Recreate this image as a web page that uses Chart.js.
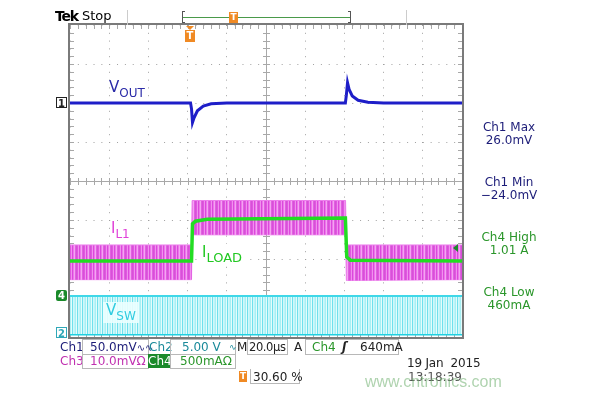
<!DOCTYPE html>
<html lang="en">
<head>
<meta charset="UTF-8">
<title>Tek scope capture</title>
<script src="https://cdn.jsdelivr.net/npm/chart.js@4.4.0/dist/chart.umd.min.js"></script>
<style>
  body { margin: 0; background: #fff; }
  #wrap { position: relative; width: 607px; height: 397px; overflow: hidden; }
  #scope { position: absolute; left: 0; top: 0; }
  .t { position: absolute; white-space: nowrap; font: 12px "DejaVu Sans", sans-serif; line-height: 14px; }
  .box { position: absolute; border: 1px solid #b8b8b8; box-sizing: border-box; }
  .meas { position: absolute; left: 459px; width: 100px; text-align: center; font: 12px "DejaVu Sans", sans-serif; line-height: 13px; }
  .lbl { position: absolute; white-space: nowrap; font-family: "DejaVu Sans", sans-serif; font-size: 15px; line-height: 16px; }
  .lbl span { font-size: 12px; position: relative; top: 5px; }
  .mk { position: absolute; width: 11px; height: 11px; font: bold 10px "DejaVu Sans", sans-serif; line-height: 11px; text-align: center; box-sizing: border-box; }
</style>
</head>
<body>
<div id="wrap">
  <canvas id="scope" width="607" height="397"></canvas>

  <!-- barra de cima -->
  <div class="t" style="left:55px;top:9px;font:bold 14px 'DejaVu Sans';letter-spacing:-1.2px;line-height:15px;">Tek</div>
  <div class="t" style="left:82px;top:9px;font-size:13px;">Stop</div>
  <div style="position:absolute;left:127px;top:10px;width:1px;height:15px;background:#ccc;"></div>
  <div style="position:absolute;left:406px;top:10px;width:1px;height:15px;background:#ccc;"></div>
  <div style="position:absolute;left:183px;top:17px;width:167px;height:1px;background:#4a9a4a;"></div>
  <div style="position:absolute;left:182px;top:11px;width:3px;height:12px;border-left:1px solid #555;border-top:1px solid #555;border-bottom:1px solid #555;box-sizing:border-box;"></div>
  <div style="position:absolute;left:348px;top:11px;width:3px;height:12px;border-right:1px solid #555;border-top:1px solid #555;border-bottom:1px solid #555;box-sizing:border-box;"></div>
  <div class="mk" style="left:229px;top:12px;width:9px;height:11px;background:#f08a24;color:#fff;font-size:9px;">T</div>
  <div style="position:absolute;left:186px;top:26px;width:0;height:0;border-left:4px solid transparent;border-right:4px solid transparent;border-top:4px solid #f08a24;"></div>
  <div class="mk" style="left:185px;top:30px;width:10px;height:12px;background:#f08a24;color:#fff;font-size:10px;">T</div>

  <!-- marcadores de canal -->
  <div class="mk" style="left:56px;top:97px;border:1px solid #222;background:#fff;color:#222;">1</div>
  <div class="mk" style="left:56px;top:290px;background:#1a8a2a;color:#fff;border-radius:2px;">4</div>
  <div class="mk" style="left:56px;top:327px;border:1px solid #30a8b8;background:#fff;color:#30a8b8;">2</div>
  <div style="position:absolute;left:453px;top:244px;width:0;height:0;border-top:4px solid transparent;border-bottom:4px solid transparent;border-right:5px solid #1a8a2a;"></div>

  <!-- rótulos dos traços -->
  <div class="lbl" style="left:109px;top:79px;color:#2b2ba8;">V<span>OUT</span></div>
  <div class="lbl" style="left:111px;top:220px;color:#e040d8;">I<span>L1</span></div>
  <div class="lbl" style="left:200px;top:244px;color:#22c822;background:#fff;padding:0 2px;">I<span style="font-size:13px;">LOAD</span></div>
  <div class="lbl" style="left:103px;top:302px;color:#30cce0;background:rgba(235,255,255,0.9);padding:0 3px 4px 3px;">V<span>SW</span></div>

  <!-- medidas -->
  <div class="meas" style="top:121px;color:#1c1c78;">Ch1 Max<br>26.0mV</div>
  <div class="meas" style="top:176px;color:#1c1c78;">Ch1 Min<br>&minus;24.0mV</div>
  <div class="meas" style="top:231px;color:#2a962a;">Ch4 High<br>1.01 A</div>
  <div class="meas" style="top:286px;color:#2a962a;">Ch4 Low<br>460mA</div>

  <!-- linha 1 -->
  <div class="t" style="left:60px;top:340px;color:#1c1c78;">Ch1</div>
  <div class="box" style="left:82px;top:339px;width:67px;height:16px;"></div>
  <div class="t" style="left:90px;top:340px;color:#1c1c78;">50.0mV<span style="font-size:10px;">∿∿</span></div>
  <div class="t" style="left:149px;top:340px;color:#1a8a9a;">Ch2</div>
  <div class="box" style="left:170px;top:339px;width:66px;height:16px;"></div>
  <div class="t" style="left:182px;top:340px;color:#1a8a9a;">5.00 V</div>
  <div class="t" style="left:229px;top:340px;color:#1a8a9a;font-size:9px;">∿</div>
  <div class="t" style="left:237px;top:340px;color:#222;">M</div>
  <div class="box" style="left:247px;top:339px;width:41px;height:16px;"></div>
  <div class="t" style="left:249px;top:340px;color:#222;font-size:11.5px;letter-spacing:-0.4px;">20.0µs</div>
  <div class="t" style="left:294px;top:340px;color:#222;">A</div>
  <div class="box" style="left:305px;top:339px;width:94px;height:16px;"></div>
  <div class="t" style="left:312px;top:340px;color:#2a962a;">Ch4</div>
  <div class="t" style="left:342px;top:340px;color:#222;font-style:italic;font-weight:bold;">ʃ</div>
  <div class="t" style="left:360px;top:340px;color:#222;">640mA</div>

  <!-- linha 2 -->
  <div class="t" style="left:60px;top:354px;color:#c030b0;">Ch3</div>
  <div class="box" style="left:82px;top:354px;width:67px;height:15px;"></div>
  <div class="t" style="left:90px;top:354px;color:#c030b0;">10.0mVΩ</div>
  <div class="t" style="left:148px;top:354px;width:22px;height:14px;background:#1a8a2a;color:#fff;text-align:center;">Ch4</div>
  <div class="box" style="left:170px;top:354px;width:66px;height:15px;"></div>
  <div class="t" style="left:180px;top:354px;color:#2a962a;">500mAΩ</div>

  <!-- linha 3 -->
  <div class="mk" style="left:239px;top:371px;width:8px;height:11px;background:#f08a24;color:#fff;font-size:9px;">T</div>
  <div class="box" style="left:250px;top:369px;width:50px;height:15px;border-top:none;"></div>
  <div class="t" style="left:253px;top:370px;color:#222;">30.60 %</div>

  <!-- data e hora -->
  <div class="t" style="left:407px;top:356px;color:#222;font-size:12px;letter-spacing:-0.2px;">19 Jan&nbsp; 2015</div>
  <div class="t" style="left:408px;top:370px;color:#555;font-size:12px;">13:18:39</div>
  <div class="t" style="left:365px;top:372px;color:rgba(110,175,110,0.55);font:17px 'Liberation Sans',sans-serif;line-height:20px;transform:scaleX(0.94);transform-origin:left top;">www.cntronics.com</div>
</div>

<script>
// tempo em µs (20 µs/div, 10 divisões), amplitudes em divisões de tela (0 = base, 8 = topo)
const voutTime = [0, 61.5, 62, 62.5, 63.3, 65, 68, 72, 80, 140.5, 141, 141.6, 142.4, 144, 147, 152, 160, 200];
const voutDiv  = [6, 6, 5.85, 5.5, 5.62, 5.8, 5.92, 5.98, 6, 6, 6.2, 6.52, 6.35, 6.18, 6.07, 6.02, 6, 6];

const il1Time  = [0, 62, 62.3, 140.6, 141, 200];
const il1Top   = [2.36, 2.36, 3.5, 3.5, 2.36, 2.36];
const il1Bot   = [1.47, 1.47, 2.62, 2.62, 1.45, 1.47];

const iloadTime = [0, 62, 62.5, 64, 70, 140.5, 141.2, 143, 200];
const iloadDiv  = [1.95, 1.95, 2.9, 2.97, 3.02, 3.05, 2.05, 1.97, 1.95];

const vswTime  = [0, 200];
const vswTop   = [1.05, 1.05];
const vswBot   = [0.08, 0.08];

function pts(xs, ys) {
  return xs.map((x, i) => ({ x: x, y: ys[i] }));
}

// textura de linhas verticais (ripple de chaveamento)
function stripes(colors) {
  const c = document.createElement('canvas');
  c.width = colors.length;
  c.height = 1;
  const g = c.getContext('2d');
  colors.forEach((col, i) => { g.fillStyle = col; g.fillRect(i, 0, 1, 1); });
  return g.createPattern(c, 'repeat');
}
const ctx = document.getElementById('scope').getContext('2d');
const magentaFill = stripes(['#e058e0', '#f090ee', '#dc48dc', '#ec78ea', '#f4a4f2', '#e060e0', '#d850d8']);
const cyanFill = stripes(['#a8f0f4', '#e4fcfc', '#70e0ec', '#d0f8fa', '#bff4f8']);

// retícula da tela do osciloscópio
const graticule = {
  id: 'graticule',
  beforeDatasetsDraw(chart) {
    const c = chart.ctx, xs = chart.scales.x, ys = chart.scales.y, a = chart.chartArea;
    const cx = xs.getPixelForValue(100), cy = ys.getPixelForValue(4);
    c.save();
    c.strokeStyle = '#a8a8a8';
    c.lineWidth = 1;
    c.beginPath();
    c.moveTo(a.left, cy + 0.5); c.lineTo(a.right, cy + 0.5);
    c.moveTo(cx + 0.5, a.top); c.lineTo(cx + 0.5, a.bottom);
    for (let v = 0; v <= 200; v += 4) {
      const px = Math.round(xs.getPixelForValue(v)) + 0.5;
      c.moveTo(px, cy - 3); c.lineTo(px, cy + 4);
      c.moveTo(px, a.top); c.lineTo(px, a.top + 4);
      c.moveTo(px, a.bottom - 4); c.lineTo(px, a.bottom);
    }
    for (let v = 0; v <= 8; v += 0.2) {
      const py = Math.round(ys.getPixelForValue(v)) + 0.5;
      c.moveTo(cx - 3, py); c.lineTo(cx + 4, py);
      c.moveTo(a.left, py); c.lineTo(a.left + 4, py);
      c.moveTo(a.right - 4, py); c.lineTo(a.right, py);
    }
    c.stroke();
    c.restore();
  },
  afterDatasetsDraw(chart) {
    const c = chart.ctx, a = chart.chartArea;
    c.save();
    c.strokeStyle = '#7a7a7a';
    c.lineWidth = 2;
    c.strokeRect(a.left - 1, a.top - 1, a.right - a.left + 2, a.bottom - a.top + 2);
    c.restore();
  }
};

new Chart(ctx, {
  type: 'line',
  data: {
    datasets: [
      { label: 'VOUT', data: pts(voutTime, voutDiv), borderColor: '#1e1ec8', borderWidth: 3, pointRadius: 0, fill: false },
      { label: 'ILOAD', data: pts(iloadTime, iloadDiv), borderColor: '#22dd22', borderWidth: 3.5, pointRadius: 0, fill: false },
      { label: 'IL1 top', data: pts(il1Time, il1Top), borderColor: '#ec80ec', borderWidth: 1, pointRadius: 0, fill: '+1', backgroundColor: magentaFill },
      { label: 'IL1 bottom', data: pts(il1Time, il1Bot), borderColor: '#ec80ec', borderWidth: 1, pointRadius: 0, fill: false },
      { label: 'VSW top', data: pts(vswTime, vswTop), borderColor: '#40d8e8', borderWidth: 2, pointRadius: 0, fill: '+1', backgroundColor: cyanFill },
      { label: 'VSW bottom', data: pts(vswTime, vswBot), borderColor: '#20d0e0', borderWidth: 3, pointRadius: 0, fill: false }
    ]
  },
  options: {
    responsive: false,
    animation: false,
    devicePixelRatio: 1,
    layout: { padding: { left: 70, top: 25, right: 145, bottom: 60 } },
    plugins: { legend: { display: false }, tooltip: { enabled: false } },
    scales: {
      x: {
        type: 'linear', min: 0, max: 200,
        ticks: { display: false, stepSize: 20 },
        grid: { color: '#a0a0a0', drawTicks: false },
        border: { display: false, dash: [1, 6.8] },
        afterFit: s => { s.height = 0; }
      },
      y: {
        type: 'linear', min: 0, max: 8,
        ticks: { display: false, stepSize: 1 },
        grid: { color: '#a0a0a0', drawTicks: false },
        border: { display: false, dash: [1, 6.84] },
        afterFit: s => { s.width = 0; }
      }
    }
  },
  plugins: [graticule]
});
</script>
</body>
</html>
